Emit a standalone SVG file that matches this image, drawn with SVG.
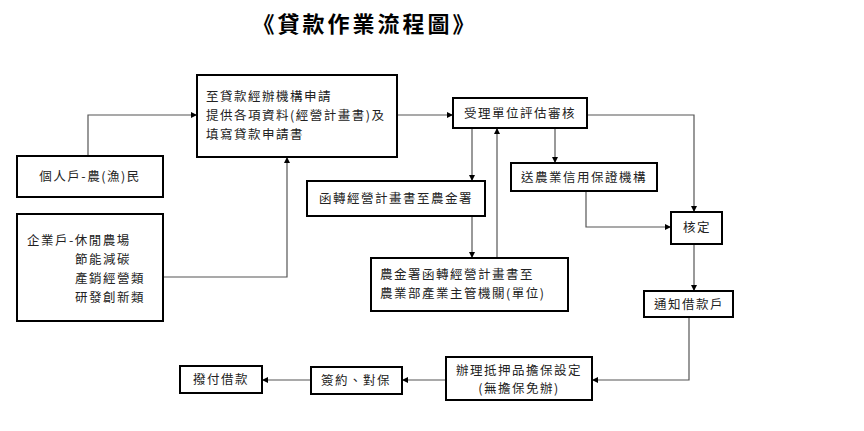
<svg xmlns="http://www.w3.org/2000/svg" width="864" height="431" viewBox="0 0 864 431">
<defs>
<marker id="a" viewBox="0 0 10 10" refX="10" refY="5" markerWidth="5" markerHeight="5" orient="auto"><path d="M0,0L10,5L0,10z" fill="#000"/></marker>
<style>
.b{fill:#fff;stroke:#000;stroke-width:2}
.t{font-family:"Noto Sans CJK TC","Noto Sans CJK SC",sans-serif;font-size:12.5px;fill:#222;letter-spacing:1.5px}
.c{fill:none;stroke:#555;stroke-width:1.2;marker-end:url(#a)}
</style>
</defs>
<rect width="864" height="431" fill="#fff"/>
<text x="365" y="32" text-anchor="middle" style="font-family:'Noto Sans CJK TC',sans-serif;font-size:22px;font-weight:bold;letter-spacing:3px">《貸款作業流程圖》</text>
<g id="connectors">
<path class="c" d="M88,156V115H197"/>
<path class="c" d="M163,277H287V157"/>
<path class="c" d="M397,115H453"/>
<path class="c" d="M472,128V181"/>
<path class="c" d="M472,216V258"/>
<path class="c" d="M497,258V128"/>
<path class="c" d="M555,128V163"/>
<path class="c" d="M587,115H694V212"/>
<path class="c" d="M586,191V227H671"/>
<path class="c" d="M694,244V291"/>
<path class="c" d="M689,317V380H592"/>
<path class="c" d="M446,380H402"/>
<path class="c" d="M311,380H262"/>
</g>
<g id="n1"><rect class="b" x="197" y="75" width="200" height="82"/><text class="t" x="206" y="101">至貸款經辦機構申請</text><text class="t" x="206" y="120">提供各項資料(經營計畫書)及</text><text class="t" x="206" y="139">填寫貸款申請書</text></g>
<g id="n2"><rect class="b" x="17" y="156" width="146" height="41"/><text class="t" x="90" y="181" text-anchor="middle">個人戶-農(漁)民</text></g>
<g id="n3"><rect class="b" x="17" y="214" width="146" height="107"/><text class="t" x="27" y="245">企業戶-休閒農場</text><text class="t" x="75" y="264">節能減碳</text><text class="t" x="75" y="283">產銷經營類</text><text class="t" x="75" y="302">研發創新類</text></g>
<g id="n4"><rect class="b" x="453" y="98" width="134" height="30"/><text class="t" x="520" y="118" text-anchor="middle">受理單位評估審核</text></g>
<g id="n5"><rect class="b" x="511" y="163" width="146" height="28"/><text class="t" x="584" y="182" text-anchor="middle">送農業信用保證機構</text></g>
<g id="n6"><rect class="b" x="307" y="181" width="178" height="35"/><text class="t" x="396" y="203" text-anchor="middle">函轉經營計畫書至農金署</text></g>
<g id="n7"><rect class="b" x="371" y="258" width="197" height="53"/><text class="t" x="380" y="279">農金署函轉經營計畫書至</text><text class="t" x="380" y="298">農業部產業主管機關(單位)</text></g>
<g id="n8"><rect class="b" x="671" y="212" width="51" height="32"/><text class="t" x="697" y="232" text-anchor="middle">核定</text></g>
<g id="n9"><rect class="b" x="644" y="291" width="89" height="26"/><text class="t" x="689" y="309" text-anchor="middle">通知借款戶</text></g>
<g id="n10"><rect class="b" x="446" y="357" width="146" height="43"/><text class="t" x="519" y="375" text-anchor="middle">辦理抵押品擔保設定</text><text class="t" x="519" y="393" text-anchor="middle">(無擔保免辦)</text></g>
<g id="n11"><rect class="b" x="311" y="367" width="91" height="27"/><text class="t" x="356" y="385" text-anchor="middle">簽約、對保</text></g>
<g id="n12"><rect class="b" x="180" y="366" width="82" height="27"/><text class="t" x="221" y="384" text-anchor="middle">撥付借款</text></g>
</svg>
